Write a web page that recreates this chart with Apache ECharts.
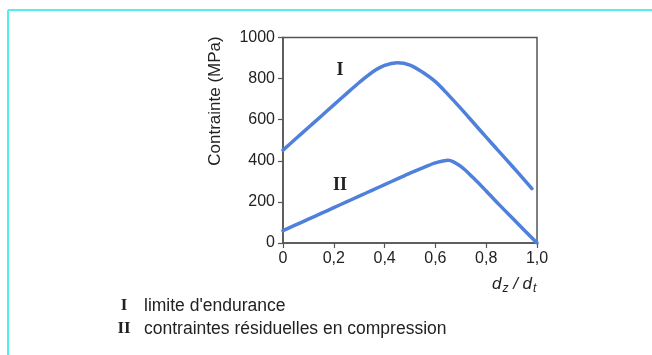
<!DOCTYPE html>
<html>
<head>
<meta charset="utf-8">
<script src="https://cdn.jsdelivr.net/npm/echarts@6/dist/echarts.min.js"></script>
<style>
  html, body { margin: 0; padding: 0; background: #ffffff; }
  #chart { width: 652px; height: 355px; }
</style>
</head>
<body>
<div id="chart"></div>
<script>
// Rapport de profondeur d_z / d_t
const xTicks = [0, 0.2, 0.4, 0.6, 0.8, 1.0];
const xTickLabels = ['0', '0,2', '0,4', '0,6', '0,8', '1,0'];
const yTicks = [0, 200, 400, 600, 800, 1000];

// Courbe I : limite d'endurance (MPa)
const enduranceX = [0, 0.05, 0.1, 0.15, 0.2, 0.25, 0.3, 0.35, 0.4, 0.45, 0.5, 0.55, 0.6, 0.65, 0.7, 0.75, 0.8, 0.85, 0.9, 0.95, 0.98];
const enduranceY = [452, 507, 562, 617, 672, 727, 781, 830, 864, 877, 866, 831, 785, 722, 655, 585, 515, 446, 377, 307, 265];

// Courbe II : contraintes résiduelles en compression (MPa)
const residuelX = [0, 0.05, 0.1, 0.15, 0.2, 0.25, 0.3, 0.35, 0.4, 0.45, 0.5, 0.55, 0.6, 0.65, 0.7, 0.75, 0.8, 0.85, 0.9, 0.95, 1.0];
const residuelY = [60, 88, 116, 144, 172, 200, 228, 256, 284, 312, 340, 366, 390, 403, 373, 316, 253, 188, 125, 62, 0];

const curveNames = ['I', 'II'];
const legendTexts = ["limite d'endurance", 'contraintes résiduelles en compression'];

const pair = (xs, ys) => xs.map((x, i) => [x, ys[i]]);

const chart = echarts.init(document.getElementById('chart'), null, { renderer: 'canvas' });

const axisColor = '#555555';
const textColor = '#222222';
const lineColor = '#4f80dc';
const sans = '"Liberation Sans", Arial, sans-serif';
const serif = '"Liberation Serif", "DejaVu Serif", serif';

chart.setOption({
  backgroundColor: '#ffffff',
  animation: false,
  grid: {
    left: 283, right: 115, top: 37.5, bottom: 112,
    show: true, borderColor: axisColor, borderWidth: 1.5, backgroundColor: 'transparent'
  },
  xAxis: {
    type: 'value', min: 0, max: 1, interval: 0.2,
    axisLine: { show: true, lineStyle: { color: axisColor, width: 1.5 } },
    axisTick: { show: true, length: 5, lineStyle: { color: axisColor, width: 1.2 } },
    splitLine: { show: false },
    axisLabel: {
      color: textColor, fontFamily: sans, fontSize: 16, margin: 8,
      formatter: v => {
        const i = xTicks.findIndex(t => Math.abs(t - v) < 1e-9);
        return i >= 0 ? xTickLabels[i] : '';
      }
    }
  },
  yAxis: {
    type: 'value', min: 0, max: 1000, interval: 200,
    axisLine: { show: true, lineStyle: { color: axisColor, width: 1.5 } },
    axisTick: { show: true, length: 5, lineStyle: { color: axisColor, width: 1.2 } },
    splitLine: { show: false },
    axisLabel: {
      color: textColor, fontFamily: sans, fontSize: 16, margin: 8,
      formatter: v => (yTicks.includes(v) ? String(v) : '')
    }
  },
  series: [
    {
      name: curveNames[0], type: 'line', data: pair(enduranceX, enduranceY),
      smooth: 0.3, showSymbol: false,
      lineStyle: { color: lineColor, width: 3.5, cap: 'round', join: 'round' }
    },
    {
      name: curveNames[1], type: 'line', data: pair(residuelX, residuelY),
      smooth: 0.3, showSymbol: false,
      lineStyle: { color: lineColor, width: 3.5, cap: 'round', join: 'round' }
    }
  ],
  graphic: [
    // cadre cyan
    { type: 'line', shape: { x1: 8, y1: 10, x2: 652, y2: 10 }, style: { stroke: '#55eeee', lineWidth: 2 } },
    { type: 'line', shape: { x1: 8, y1: 10, x2: 8, y2: 355 }, style: { stroke: '#55eeee', lineWidth: 2 } },
    // titre de l'axe vertical
    {
      type: 'text', x: 215, y: 101, rotation: Math.PI / 2,
      style: {
        text: 'Contrainte (MPa)', fill: textColor, font: '17px ' + sans,
        textAlign: 'center', textVerticalAlign: 'middle'
      }
    },
    // titre de l'axe horizontal
    {
      type: 'text', x: 492, y: 284,
      style: {
        text: '{m|d}{s|z}{m| / d}{s|t}',
        textVerticalAlign: 'middle',
        rich: {
          m: { fill: textColor, font: 'italic 17px ' + sans, fontStyle: 'italic', fontSize: 17, fontFamily: sans, color: textColor },
          s: { fill: textColor, font: 'italic 12px ' + sans, fontStyle: 'italic', fontSize: 12, fontFamily: sans, color: textColor, padding: [10, 0, 0, 1] }
        }
      }
    },
    // repères des courbes
    {
      type: 'text', x: 340, y: 70,
      style: { text: curveNames[0], fill: textColor, font: 'bold 18px ' + serif, textAlign: 'center', textVerticalAlign: 'middle' }
    },
    {
      type: 'text', x: 340, y: 185,
      style: { text: curveNames[1], fill: textColor, font: 'bold 18px ' + serif, textAlign: 'center', textVerticalAlign: 'middle' }
    },
    // légende
    {
      type: 'text', x: 124, y: 306,
      style: { text: curveNames[0], fill: textColor, font: 'bold 17px ' + serif, textAlign: 'center', textVerticalAlign: 'middle' }
    },
    {
      type: 'text', x: 144, y: 306,
      style: { text: legendTexts[0], fill: textColor, font: '17.5px ' + sans, textAlign: 'left', textVerticalAlign: 'middle' }
    },
    {
      type: 'text', x: 124, y: 329,
      style: { text: curveNames[1], fill: textColor, font: 'bold 17px ' + serif, textAlign: 'center', textVerticalAlign: 'middle' }
    },
    {
      type: 'text', x: 144, y: 329,
      style: { text: legendTexts[1], fill: textColor, font: '17.5px ' + sans, textAlign: 'left', textVerticalAlign: 'middle' }
    }
  ]
});
</script>
</body>
</html>
